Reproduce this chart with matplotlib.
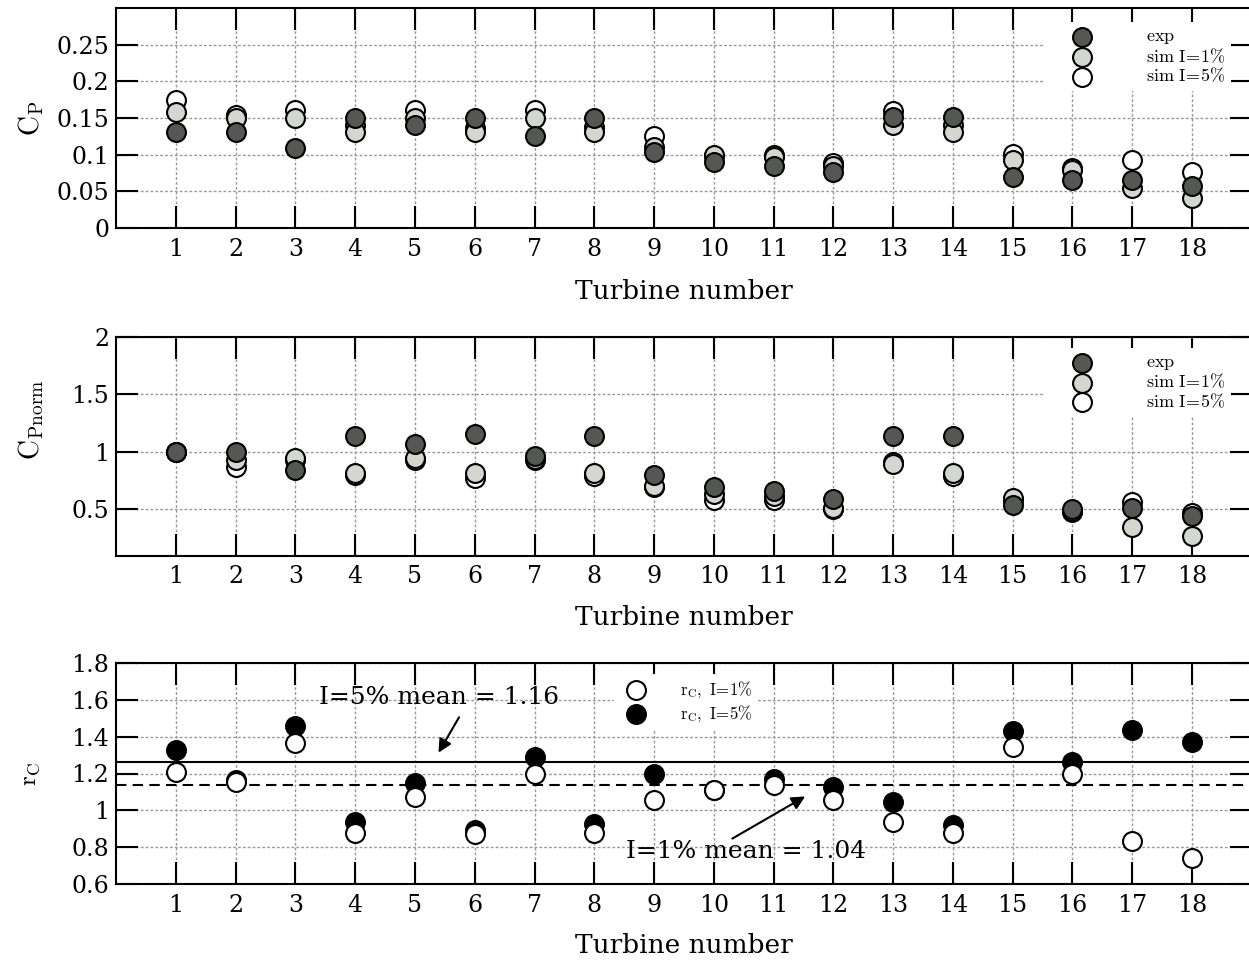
import numpy as np
import matplotlib
matplotlib.use('Agg')
import matplotlib.pyplot as plt
from matplotlib.ticker import FormatStrFormatter

plt.rcParams['font.family'] = 'DejaVu Serif'
plt.rcParams['mathtext.fontset'] = 'cm'

turbines = np.arange(1, 19)

# power coefficient
cp_exp = [0.131, 0.131, 0.109, 0.150, 0.140, 0.150, 0.125, 0.150, 0.104,
          0.090, 0.085, 0.076, 0.151, 0.151, 0.070, 0.066, 0.066, 0.057]
cp_sim1 = [0.158, 0.150, 0.150, 0.131, 0.150, 0.131, 0.150, 0.131, 0.111,
           0.100, 0.097, 0.085, 0.141, 0.131, 0.093, 0.079, 0.055, 0.041]
cp_sim5 = [0.175, 0.154, 0.161, 0.140, 0.161, 0.136, 0.161, 0.138, 0.125,
           0.098, 0.100, 0.088, 0.159, 0.140, 0.101, 0.082, 0.093, 0.077]

# normalised power coefficient
cpn_exp = [1.0, 1.0, 0.84, 1.14, 1.07, 1.15, 0.96, 1.14, 0.80,
           0.69, 0.66, 0.59, 1.14, 1.14, 0.54, 0.50, 0.51, 0.44]
cpn_sim1 = [1.0, 0.93, 0.95, 0.82, 0.95, 0.82, 0.94, 0.82, 0.70,
            0.63, 0.62, 0.51, 0.89, 0.82, 0.60, 0.49, 0.345, 0.27]
cpn_sim5 = [1.0, 0.87, 0.93, 0.80, 0.93, 0.77, 0.93, 0.79, 0.69,
            0.58, 0.58, 0.50, 0.91, 0.79, 0.58, 0.48, 0.56, 0.47]

# ratio r_C
rc_sim1 = [1.21, 1.155, 1.365, 0.877, 1.075, 0.872, 1.20, 0.877, 1.056,
           1.11, 1.14, 1.056, 0.937, 0.877, 1.346, 1.20, 0.834, 0.74]
rc_sim5 = [1.327, 1.166, 1.458, 0.937, 1.15, 0.893, 1.29, 0.926, 1.197,
           1.11, 1.17, 1.125, 1.045, 0.92, 1.43, 1.26, 1.436, 1.37]
line_i5 = 1.26
line_i1 = 1.14

dark = '#555753'
light = '#d3d7cf'
S = 185
EW = 1.5

fig = plt.figure(figsize=(12.49, 9.61), dpi=100)
W, H = 1249, 961


def make_axes(top, bottom, xlab_y):
    left, right = 116.2, 1251.6
    ax = fig.add_axes([left / W, 1 - bottom / H, (right - left) / W, (bottom - top) / H])
    ax.set_xlim(0, 19)
    ax.set_xticks(turbines)
    ax.tick_params(direction='in', length=16, width=1.5, top=True, right=True,
                   labelsize=17, pad=7)
    ax.tick_params(axis='y', pad=5)
    for s in ax.spines.values():
        s.set_linewidth(1.5)
    ax.grid(True, color='#999999', linestyle=(0, (2, 1.5)), linewidth=1.0)
    ax.set_axisbelow(True)
    ax.set_xlabel('Turbine number', fontsize=19)
    ax.xaxis.set_label_coords(0.5, xlab_y)
    return ax


leg_kw = dict(frameon=True, facecolor='white', edgecolor='none', framealpha=1,
              fancybox=False, scatterpoints=1, handlelength=3.5, handletextpad=1.8,
              labelspacing=0.05, borderpad=0.3, borderaxespad=0, fontsize=13)
leg_labels = [r'$\mathrm{exp}$', r'$\mathrm{sim\ I\!=\!1\%}$', r'$\mathrm{sim\ I\!=\!5\%}$']

# top panel
ax1 = make_axes(8, 228, -0.234)
ax1.set_ylim(0, 0.3)
ax1.set_yticks([0, 0.05, 0.1, 0.15, 0.2, 0.25])
ax1.yaxis.set_major_formatter(FormatStrFormatter('%g'))
h5 = ax1.scatter(turbines, cp_sim5, s=S, c='white', edgecolors='black', linewidths=EW, zorder=3)
h1 = ax1.scatter(turbines, cp_sim1, s=S, c=light, edgecolors='black', linewidths=EW, zorder=4)
he = ax1.scatter(turbines, cp_exp, s=S, c=dark, edgecolors='black', linewidths=EW, zorder=5)
ax1.set_ylabel(r'$\mathrm{C_P}$', fontsize=20)
ax1.yaxis.set_label_coords(-0.062, 0.5)
ax1.legend([he, h1, h5], leg_labels, loc='upper left', bbox_to_anchor=(0.818, 0.936), **leg_kw)

# middle panel
ax2 = make_axes(336.5, 555.5, -0.228)
ax2.set_ylim(0.1, 2)
ax2.set_yticks([0.5, 1, 1.5, 2])
ax2.yaxis.set_major_formatter(FormatStrFormatter('%g'))
h5 = ax2.scatter(turbines, cpn_sim5, s=S, c='white', edgecolors='black', linewidths=EW, zorder=3)
h1 = ax2.scatter(turbines, cpn_sim1, s=S, c=light, edgecolors='black', linewidths=EW, zorder=4)
he = ax2.scatter(turbines, cpn_exp, s=S, c=dark, edgecolors='black', linewidths=EW, zorder=5)
ax2.set_ylabel(r'$\mathrm{C_{Pnorm}}$', fontsize=20)
ax2.yaxis.set_label_coords(-0.062, 0.62)
ax2.legend([he, h1, h5], leg_labels, loc='upper left', bbox_to_anchor=(0.818, 0.948), **leg_kw)

# bottom panel
ax3 = make_axes(663, 884, -0.22)
ax3.set_ylim(0.6, 1.8)
ax3.set_yticks([0.6, 0.8, 1, 1.2, 1.4, 1.6, 1.8])
ax3.yaxis.set_major_formatter(FormatStrFormatter('%g'))
ax3.axhline(line_i5, color='black', linewidth=1.5, zorder=2)
ax3.axhline(line_i1, color='black', linewidth=1.5, linestyle=(0, (5, 3)), zorder=2)
hb = ax3.scatter(turbines, rc_sim5, s=S, c='black', edgecolors='black', linewidths=EW, zorder=3)
hw = ax3.scatter(turbines, rc_sim1, s=S, c='white', edgecolors='black', linewidths=EW, zorder=4)
ax3.set_ylabel(r'$\mathrm{r_C}$', fontsize=18)
ax3.yaxis.set_label_coords(-0.065, 0.5)
ax3.legend([hw, hb], [r'$\mathrm{r_C,\ I\!=\!1\%}$', r'$\mathrm{r_C,\ I\!=\!5\%}$'],
           loc='upper left', bbox_to_anchor=(0.4385, 0.95), fontsize=12,
           frameon=True, facecolor='white', edgecolor='none', framealpha=1,
           fancybox=False, scatterpoints=1, handlelength=2.0, handletextpad=1.65,
           labelspacing=0.15, borderpad=0.3, borderaxespad=0)

ax3.annotate('', xy=(5.37, 1.30), xytext=(5.76, 1.518),
             arrowprops=dict(arrowstyle='-|>', color='black', lw=1.5, mutation_scale=20), zorder=6)
ax3.text(5.41, 1.61, 'I=5% mean = 1.16', fontsize=18, ha='center', va='center', zorder=6)
ax3.annotate('', xy=(11.57, 1.083), xytext=(10.27, 0.839),
             arrowprops=dict(arrowstyle='-|>', color='black', lw=1.5, mutation_scale=20), zorder=6)
ax3.text(10.54, 0.774, 'I=1% mean = 1.04', fontsize=18, ha='center', va='center', zorder=6)

fig.savefig('out.png', dpi=100)
